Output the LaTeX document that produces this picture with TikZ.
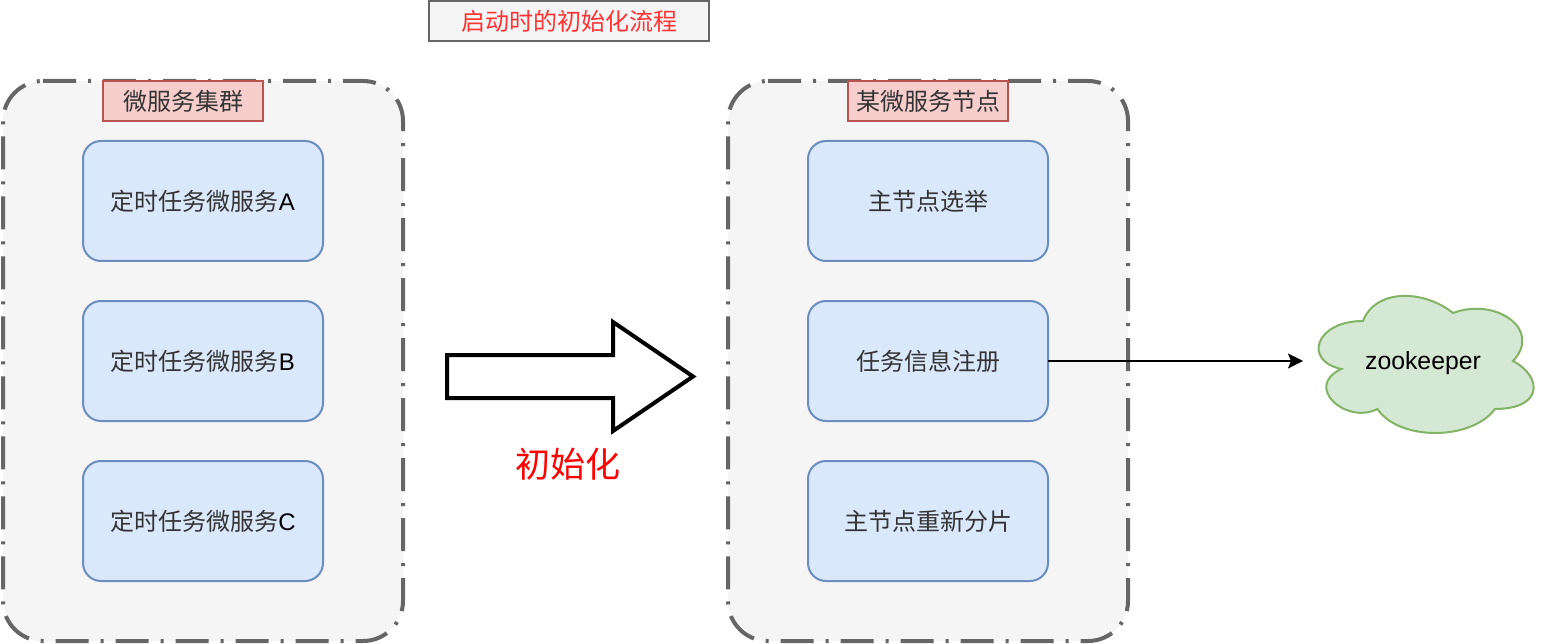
\documentclass[tikz,border=0pt]{standalone}
\usepackage{fontspec}
\setmainfont{Liberation Sans}
\newfontfamily\cjk{Noto Sans CJK SC}
\usetikzlibrary{arrows.meta}
\definecolor{boxblue}{HTML}{DAE8FC}
\definecolor{lineblue}{HTML}{6C8EBF}
\definecolor{boxred}{HTML}{F8CECC}
\definecolor{linered}{HTML}{B85450}
\definecolor{boxgrey}{HTML}{F5F5F5}
\definecolor{linegrey}{HTML}{666666}
\definecolor{boxgreen}{HTML}{D5E8D4}
\definecolor{linegreen}{HTML}{82B366}
\definecolor{cjkgrey}{HTML}{333333}
\definecolor{titlered}{HTML}{FF3333}
\newcommand{\zh}[1]{{\cjk\color{cjkgrey}#1}}
\tikzset{
  base/.style={inner sep=0pt,outer sep=0pt,font=\fontsize{24}{28}\selectfont},
  groupfill/.style={base,fill=boxgrey,rounded corners=40pt,minimum width=400pt,minimum height=560pt},
  groupline/.style={draw=linegrey,line width=4pt,dash pattern=on 33pt off 12pt on 3pt off 12pt},
  taskbox/.style={base,draw=lineblue,fill=boxblue,line width=2pt,rounded corners=18pt,minimum width=240pt,minimum height=120pt},
  tagbox/.style={base,draw=linered,fill=boxred,line width=2pt,minimum width=160pt,minimum height=40pt},
  titlebox/.style={base,draw=linegrey,fill=boxgrey,line width=2pt,minimum width=280pt,minimum height=40pt,text=titlered},
  bigarrow/.style={draw=black,fill=white,line width=4pt,miter limit=10},
  cloudline/.style={draw=linegreen,fill=boxgreen,line width=2pt},
  link/.style={draw=black,line width=2pt,-{Stealth[length=15pt,width=15pt,inset=3pt]}}
}
\begin{document}
\begin{tikzpicture}[x=1pt,y=-1pt]
\useasboundingbox (0,0) rectangle (1544,644);
% title
\node[titlebox] (title) at (569,21) {{\cjk 启动时的初始化流程}};
% left group
\node[groupfill] (g1) at (203,361) {};
\draw[groupline] ([xshift=40pt]g1.north west) -- ([xshift=-40pt]g1.north east)
  arc[start angle=90,end angle=0,radius=40pt] -- ([yshift=40pt]g1.south east)
  arc[start angle=0,end angle=-90,radius=40pt] -- ([xshift=40pt]g1.south west)
  arc[start angle=-90,end angle=-180,radius=40pt] -- ([yshift=-40pt]g1.north west)
  arc[start angle=180,end angle=90,radius=40pt];
\node[tagbox] (t1) at (183,101) {\zh{微服务集群}};
\node[taskbox] (a) at (203,201) {\zh{定时任务微服务}A};
\node[taskbox] (b) at (203,361) {\zh{定时任务微服务}B};
\node[taskbox] (c) at (203,521) {\zh{定时任务微服务}C};
% right group
\node[groupfill] (g2) at (928,361) {};
\draw[groupline] ([xshift=40pt]g2.north west) -- ([xshift=-40pt]g2.north east)
  arc[start angle=90,end angle=0,radius=40pt] -- ([yshift=40pt]g2.south east)
  arc[start angle=0,end angle=-90,radius=40pt] -- ([xshift=40pt]g2.south west)
  arc[start angle=-90,end angle=-180,radius=40pt] -- ([yshift=-40pt]g2.north west)
  arc[start angle=180,end angle=90,radius=40pt];
\node[tagbox] (t2) at (928,101) {\zh{某微服务节点}};
\node[taskbox] (d) at (928,201) {\zh{主节点选举}};
\node[taskbox] (e) at (928,361) {\zh{任务信息注册}};
\node[taskbox] (f) at (928,521) {\zh{主节点重新分片}};
% big arrow
\draw[bigarrow] (447,355) -- (613,355) -- (613,322) -- (693,376.5) -- (613,431) -- (613,398) -- (447,398) -- cycle;
\node[base,font=\fontsize{35}{40}\selectfont,text=red] (init) at (568,464) {{\cjk 初始化}};
% cloud (240 x 160 box at 1303,281)
\draw[cloudline,x=2.4pt,y=-1.6pt,shift={(1303pt,-281pt)}]
  (25,25) .. controls (5,25) and (0,50) .. (16,55)
  .. controls (0,66) and (18,90) .. (31,80)
  .. controls (40,100) and (70,100) .. (80,80)
  .. controls (100,80) and (100,60) .. (87.5,50)
  .. controls (100,30) and (80,10) .. (62.5,20)
  .. controls (50,5) and (30,5) .. (25,25) -- cycle;
\node[base,font=\fontsize{24.8}{28}\selectfont,minimum width=240pt,minimum height=160pt] (zk) at (1423,361) {\raisebox{-8pt}[0pt][0pt]{zookeeper}};
\draw[link] (e.east) -- (zk.west);
\end{tikzpicture}
\end{document}
